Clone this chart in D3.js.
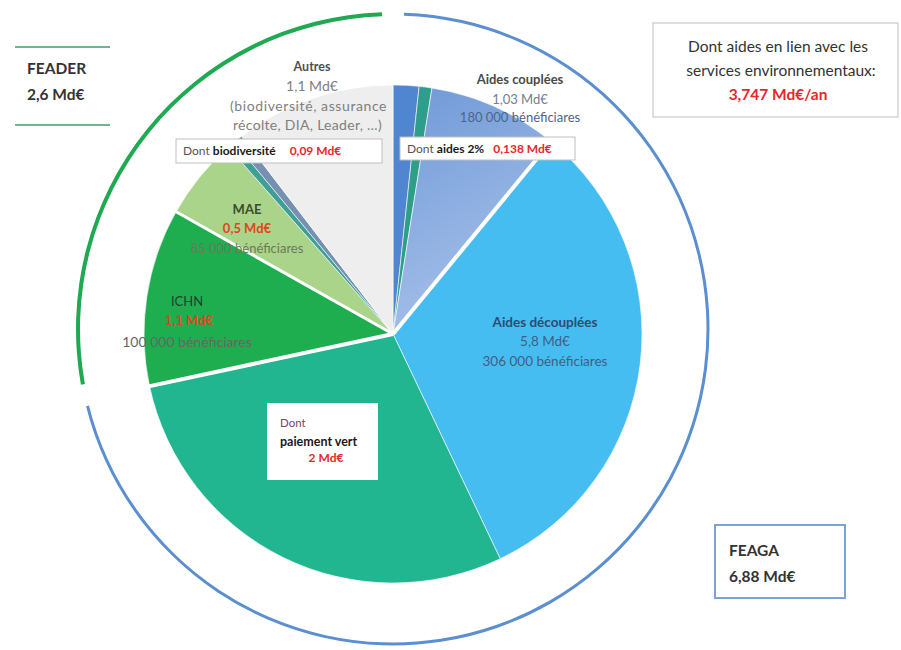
<!DOCTYPE html>
<html>
<head>
<meta charset="utf-8">
<script src="https://cdn.jsdelivr.net/npm/d3@7"></script>
<style>
  body { margin: 0; background: #fff; }
  svg { font-family: Lato, "Open Sans", sans-serif; }
</style>
</head>
<body>
<div id="chart"></div>
<script>
// slices, clockwise from 12 o'clock, share of the circle as drawn (%)
var sliceNames = ['Aides 2%', 'Protéines', 'Aides couplées', 'Aides découplées', 'Paiement vert',
    'ICHN', 'MAE', 'Bio', 'Biodiversité', 'Autres'];
var sliceShares = [1.67, 0.83, 8.44, 31.97, 28.72, 11.53, 5.33, 0.5, 0.61, 10.39];
var sliceFunds = ['FEAGA', 'FEAGA', 'FEAGA', 'FEAGA', 'FEAGA',
    'FEADER', 'FEADER', 'FEADER', 'FEADER', 'FEADER'];

var funds = ['FEAGA', 'FEADER'];
var fundTotals = ['6,88 Md€', '2,6 Md€'];

var envTotal = '3,747 Md€/an';

var svgWidth = 901;
var svgHeight = 650;

var pieCenter = { x: 393, y: 334 };
var pieRadius = 249;
var ringCenter = { x: 393, y: 329 };
var ringRadius = 315;

var color = d3.scaleOrdinal()
    .domain(sliceNames)
    .range(['#4f86cf', '#2e9e8a', 'url(#coupleGrad)', '#46bdf0', '#21b590',
        '#1eae4f', '#a9d48a', '#3f9e96', '#7590b0', '#eeeeee']);

var ringColor = d3.scaleOrdinal()
    .domain(funds)
    .range(['#5b8fd0', '#1faa52']);

var svg = d3.select('#chart')
    .append('svg')
    .attr('width', svgWidth)
    .attr('height', svgHeight);

var defs = svg.append('defs');
var grad = defs.append('linearGradient')
    .attr('id', 'coupleGrad')
    .attr('x1', 0).attr('y1', 0)
    .attr('x2', 0.35).attr('y2', 1);
grad.append('stop').attr('offset', '0%').attr('stop-color', '#6f99d7');
grad.append('stop').attr('offset', '100%').attr('stop-color', '#a6c0e9');

defs.append('clipPath')
    .attr('id', 'autresClip')
    .append('rect')
    .attr('x', 150).attr('y', 40)
    .attr('width', 241).attr('height', 100);

// pie
var pie = d3.pie()
    .sort(null)
    .value(d => d);

var arcs = pie(sliceShares);
arcs.forEach((a, i) => { a.name = sliceNames[i]; a.fund = sliceFunds[i]; });

var arc = d3.arc()
    .innerRadius(0)
    .outerRadius(pieRadius);

var pieGroup = svg.append('g')
    .attr('transform', `translate(${pieCenter.x}, ${pieCenter.y})`);

pieGroup.selectAll('path.slice')
    .data(arcs)
    .enter()
    .append('path')
    .classed('slice', true)
    .attr('d', arc)
    .attr('fill', d => color(d.name))
    .attr('stroke', '#ffffff')
    .attr('stroke-width', 0.6);

// thick white separators between some slices
var breaks = ['Aides couplées', 'Paiement vert', 'ICHN'];
pieGroup.selectAll('line.sep')
    .data(arcs.filter(d => breaks.indexOf(d.name) >= 0))
    .enter()
    .append('line')
    .classed('sep', true)
    .attr('x1', 0).attr('y1', 0)
    .attr('x2', d => d3.pointRadial(d.endAngle, pieRadius + 2)[0])
    .attr('y2', d => d3.pointRadial(d.endAngle, pieRadius + 2)[1])
    .attr('stroke', '#ffffff')
    .attr('stroke-width', d => d.name == 'ICHN' ? 3 : 4);

// outer ring, one arc per fund
var pad = 2 * Math.PI / 180;
var ringArcs = funds.map(function (f) {
    var parts = arcs.filter(d => d.fund == f);
    return {
        fund: f,
        startAngle: d3.min(parts, d => d.startAngle) + pad,
        endAngle: d3.max(parts, d => d.endAngle) - pad
    };
});

var ringGroup = svg.append('g')
    .attr('transform', `translate(${ringCenter.x}, ${ringCenter.y})`);

ringGroup.selectAll('path')
    .data(ringArcs)
    .enter()
    .append('path')
    .attr('d', d => d3.arc()
        .innerRadius(ringRadius - (d.fund == 'FEADER' ? 2 : 1.5))
        .outerRadius(ringRadius + (d.fund == 'FEADER' ? 2 : 1.5))(d))
    .attr('fill', d => ringColor(d.fund));

// slice labels
function label(g, x, y, txt, opts) {
    return g.append('text')
        .attr('x', x)
        .attr('y', y)
        .attr('text-anchor', opts.anchor || 'middle')
        .attr('font-size', opts.size || 13)
        .attr('font-weight', opts.bold ? 'bold' : 'normal')
        .attr('fill', opts.fill || '#444')
        .text(txt);
}

var labels = svg.append('g');

// Autres
label(labels, 312, 71, 'Autres', { size: 12.5, bold: true, fill: '#505050' });
label(labels, 312, 91, '1,1 Md€', { size: 14, fill: '#7f7f7f' });
var autresText = labels.append('g').attr('clip-path', 'url(#autresClip)');
label(autresText, 230, 111, '(biodiversité, assurance', { size: 14, fill: '#7f7f7f', anchor: 'start' })
    .attr('letter-spacing', 0.6);
label(autresText, 233, 130, 'récolte, DIA, Leader, …)', { size: 14, fill: '#7f7f7f', anchor: 'start' })
    .attr('letter-spacing', 0.3);

// Aides couplées
label(labels, 520, 84, 'Aides couplées', { size: 13, bold: true, fill: '#4a4a4a' });
label(labels, 520, 104, '1,03 Md€', { size: 13, fill: '#6f7f95' });
label(labels, 520, 122, '180 000 bénéficiares', { size: 13, fill: '#4f6585' });

// boxes for the "dont" parts
function dontBox(x, y, w, h, parts) {
    labels.append('rect')
        .attr('x', x).attr('y', y)
        .attr('width', w).attr('height', h)
        .attr('fill', '#ffffff')
        .attr('stroke', '#bfbfbf')
        .attr('stroke-width', 1);
    var t = labels.append('text')
        .attr('x', x + 7)
        .attr('y', y + h / 2 + 4)
        .attr('font-size', 12);
    parts.forEach(function (p) {
        t.append('tspan')
            .attr('dx', p.dx || 0)
            .attr('font-weight', p.bold ? 'bold' : 'normal')
            .attr('fill', p.fill)
            .text(p.text);
    });
}

dontBox(176, 139, 206, 24, [
    { text: 'Dont ', fill: '#555' },
    { text: 'biodiversité', bold: true, fill: '#1a1a1a' },
    { text: '0,09 Md€', bold: true, fill: '#e8262b', dx: 14 }
]);

dontBox(400, 137, 175, 23, [
    { text: 'Dont ', fill: '#555' },
    { text: 'aides 2%', bold: true, fill: '#1a1a1a' },
    { text: '0,138 Md€', bold: true, fill: '#e8262b', dx: 9 }
]);

// MAE
label(labels, 247, 214, 'MAE', { size: 13, bold: true, fill: '#3f4a2a' });
label(labels, 247, 233, '0,5 Md€', { size: 13, bold: true, fill: '#e0461d' });
label(labels, 247, 253, '85 000 bénéficiares', { size: 13, fill: '#6a7a5a' });

// ICHN
label(labels, 187, 306, 'ICHN', { size: 13, fill: '#2a3a2a' });
label(labels, 189, 325, '1,1 Md€', { size: 13, bold: true, fill: '#e0461d' });
label(labels, 187, 347, '100 000 bénéficiares', { size: 14, fill: '#666666' });

// Aides découplées
label(labels, 545, 327, 'Aides découplées', { size: 13.5, bold: true, fill: '#2d4c72' });
label(labels, 545, 346, '5,8 Md€', { size: 13.5, fill: '#3f5f88' });
label(labels, 545, 366, '306 000 bénéficiares', { size: 13.5, fill: '#3f5f88' });

// paiement vert box
labels.append('rect')
    .attr('x', 267).attr('y', 403)
    .attr('width', 111).attr('height', 77)
    .attr('fill', '#ffffff');
label(labels, 280, 427, 'Dont', { size: 11.5, fill: '#7a4a55', anchor: 'start' });
label(labels, 280, 446, 'paiement vert', { size: 12.5, bold: true, fill: '#1a1a1a', anchor: 'start' });
label(labels, 326, 462, '2 Md€', { size: 12, bold: true, fill: '#e8262b' });

// FEADER title between two green rules
labels.selectAll('line.rule')
    .data([47, 125])
    .enter()
    .append('line')
    .classed('rule', true)
    .attr('x1', 15).attr('x2', 110)
    .attr('y1', d => d).attr('y2', d => d)
    .attr('stroke', '#3f9a6c')
    .attr('stroke-width', 1.5);
label(labels, 27, 74, funds[1], { size: 15.5, bold: true, fill: '#333', anchor: 'start' });
label(labels, 27, 100, fundTotals[1], { size: 15.5, bold: true, fill: '#333', anchor: 'start' });

// FEAGA box
labels.append('rect')
    .attr('x', 715).attr('y', 525)
    .attr('width', 130).attr('height', 73)
    .attr('fill', '#ffffff')
    .attr('stroke', '#7ba3d8')
    .attr('stroke-width', 2);
label(labels, 729, 556, funds[0], { size: 15.5, bold: true, fill: '#333', anchor: 'start' });
label(labels, 729, 582, fundTotals[0], { size: 15.5, bold: true, fill: '#333', anchor: 'start' });

// environmental services box
labels.append('rect')
    .attr('x', 653).attr('y', 23)
    .attr('width', 245).attr('height', 94)
    .attr('fill', '#ffffff')
    .attr('stroke', '#c8c8c8')
    .attr('stroke-width', 1.2);
label(labels, 778, 52, 'Dont aides en lien avec les', { size: 15.5, fill: '#333' });
label(labels, 781, 76, 'services environnementaux:', { size: 15.5, fill: '#333' });
label(labels, 778, 100, envTotal, { size: 15.5, bold: true, fill: '#e8262b' });
</script>
</body>
</html>
